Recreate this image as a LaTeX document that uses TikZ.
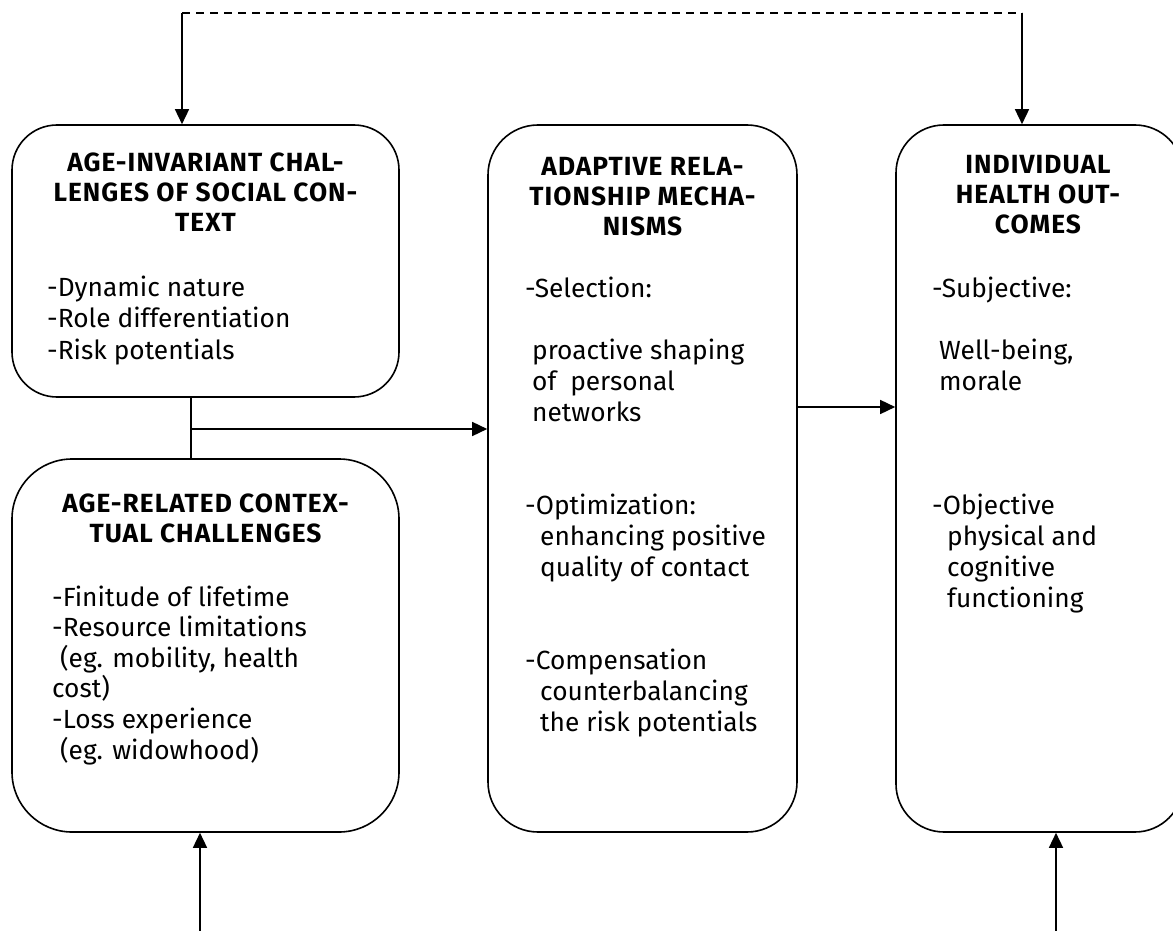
\documentclass[tikz,border=0pt]{standalone}
\usepackage{fontspec}
\setmainfont{Fira Sans}
\newfontfamily\headfont[LetterSpace=4]{Fira Sans}
\usetikzlibrary{arrows.meta}
\begin{document}
\begin{tikzpicture}[x=1pt,y=-1pt,
  box/.style={draw, line width=1.6pt, inner sep=0pt},
  link/.style={line width=1.5pt},
  arr/.style={link, -{Triangle[length=15pt,width=14pt]}},
  headtext/.style={font=\headfont\bfseries\fontsize{26.3}{30}\selectfont, align=center, inner sep=0pt, anchor=base},
  bodytext/.style={font=\fontsize{26.3}{31}\selectfont, align=left, inner sep=0pt, anchor=base west}]
\clip (0,0) rectangle (1173,931);

% the four rounded boxes
\node[box, rounded corners=45pt, minimum width=387pt, minimum height=272pt] (A) at (205.5,261) {};
\node[box, rounded corners=60pt, minimum width=387pt, minimum height=373pt] (B) at (205.5,645.5) {};
\node[box, rounded corners=50pt, minimum width=309pt, minimum height=707pt] (M) at (642.5,478.5) {};
\node[box, rounded corners=48pt, minimum width=287pt, minimum height=707pt] (R) at (1039.5,478.5) {};

% headings (placed by the baseline of their last line)
\node[headtext] (At) at (205.5,231.5) {AGE-INVARIANT CHAL-\\LENGES OF SOCIAL CON-\\TEXT};
\node[headtext] (Bt) at (205.5,542.5) {AGE-RELATED CONTEX-\\TUAL CHALLENGES};
\node[headtext] (Mt) at (642.5,235.5) {ADAPTIVE RELA-\\TIONSHIP MECHA-\\NISMS};
\node[headtext] (Rt) at (1038,233.5) {INDIVIDUAL\\HEALTH OUT-\\COMES};

% item lists (placed by the baseline of their last line)
\node[bodytext, font=\fontsize{26.3}{31.5}\selectfont] (Ab) at (47,359)
  {-Dynamic nature\\-Role differentiation\\-Risk potentials};
\node[bodytext, font=\fontsize{26.3}{30.6}\selectfont] (Bb) at (52,759)
  {-Finitude of lifetime\\-Resource limitations\\\hspace*{8pt}(eg. mobility, health\\cost)\\-Loss experience\\\hspace*{8pt}(eg. widowhood)};
\node[bodytext] (Mb) at (525,731)
  {-Selection:\\ \\\hspace*{7pt}proactive shaping\\\hspace*{7pt}of\ \ personal\\\hspace*{7pt}networks\\ \\ \\-Optimization:\\\hspace*{15pt}enhancing positive\\\hspace*{15pt}quality of contact\\ \\ \\-Compensation\\\hspace*{15pt}counterbalancing\\\hspace*{15pt}the risk potentials};
\node[bodytext] (Rb) at (932,607)
  {-Subjective:\\ \\\hspace*{7pt}Well-being,\\\hspace*{7pt}morale\\ \\ \\ \\-Objective\\\hspace*{15pt}physical and\\\hspace*{15pt}cognitive\\\hspace*{15pt}functioning};

% connectors
\coordinate (fbL) at (182,13);
\coordinate (fbR) at (1022,13);
\coordinate (j) at (191,429);
\coordinate (inB) at (200,931);
\coordinate (inR) at (1056,931);

\draw[link, dash pattern=on 8pt off 6pt] (fbL) -- (fbR);
\draw[arr] (fbL) -- (fbL |- A.north);
\draw[arr] (fbR) -- (fbR |- R.north);
\draw[link] (j |- A.south) -- (j |- B.north);
\draw[arr] (j) -- (j -| M.west);
\draw[arr] ([yshift=71.5pt]M.east) -- ([yshift=71.5pt]R.west);
\draw[arr] (inB) -- (inB |- B.south);
\draw[arr] (inR) -- (inR |- R.south);
\end{tikzpicture}
\end{document}
